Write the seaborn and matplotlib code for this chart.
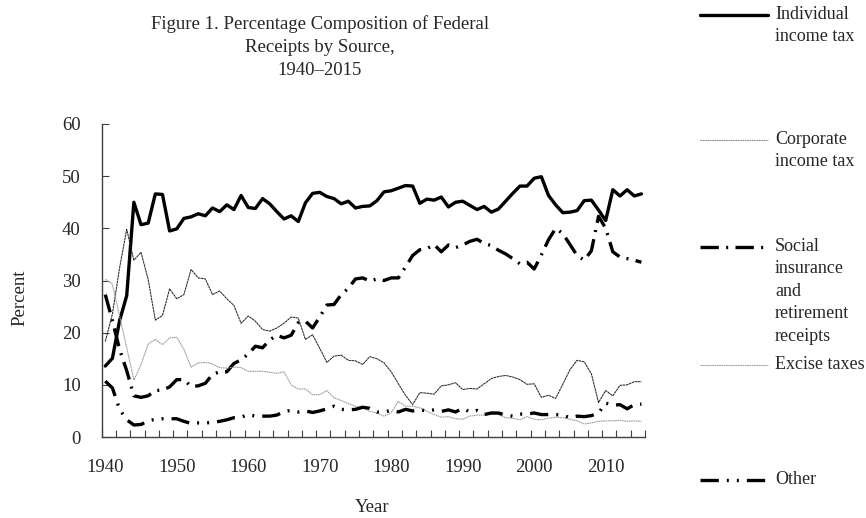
import numpy as np
import matplotlib.pyplot as plt
from matplotlib.lines import Line2D
import seaborn as sns

# percentage composition of federal receipts, fiscal years 1940-2015
years = list(range(1940, 2016))

individual = [13.6, 15.1, 22.3, 27.1, 45.0, 40.7, 41.0, 46.6, 46.5, 39.5,
              39.9, 41.9, 42.2, 42.8, 42.4, 43.9, 43.2, 44.5, 43.6, 46.3,
              44.0, 43.8, 45.7, 44.7, 43.2, 41.8, 42.4, 41.3, 44.9, 46.7,
              46.9, 46.1, 45.7, 44.7, 45.2, 43.9, 44.2, 44.3, 45.3, 47.0,
              47.2, 47.7, 48.2, 48.1, 44.8, 45.6, 45.4, 46.0, 44.1, 45.0,
              45.2, 44.4, 43.6, 44.2, 43.1, 43.7, 45.2, 46.7, 48.1, 48.1,
              49.6, 49.9, 46.3, 44.5, 43.0, 43.1, 43.4, 45.3, 45.4, 43.5,
              41.5, 47.4, 46.2, 47.4, 46.2, 46.6]

corporate = [18.3, 23.6, 32.4, 39.8, 33.9, 35.4, 30.2, 22.4, 23.3, 28.4,
             26.5, 27.3, 32.1, 30.5, 30.3, 27.3, 28.0, 26.5, 25.2, 21.8,
             23.2, 22.2, 20.6, 20.3, 20.9, 21.8, 23.0, 22.8, 18.7, 19.6,
             17.0, 14.3, 15.5, 15.7, 14.7, 14.6, 13.9, 15.4, 15.0, 14.2,
             12.5, 10.2, 8.0, 6.2, 8.5, 8.4, 8.2, 9.8, 10.0, 10.4,
             9.1, 9.3, 9.2, 10.2, 11.2, 11.6, 11.8, 11.5, 11.0, 10.1,
             10.2, 7.6, 8.0, 7.4, 10.1, 12.9, 14.7, 14.4, 12.1, 6.6,
             8.9, 7.9, 9.9, 10.0, 10.6, 10.6]

social = [27.3, 22.3, 16.8, 12.7, 7.9, 7.6, 7.9, 8.9, 9.0, 9.6,
          11.0, 11.0, 9.7, 9.8, 10.3, 12.0, 12.5, 12.5, 14.1, 14.8,
          15.9, 17.4, 17.1, 18.6, 19.5, 19.0, 19.5, 21.9, 22.2, 20.9,
          23.0, 25.3, 25.4, 27.3, 28.5, 30.3, 30.5, 29.9, 30.3, 30.0,
          30.5, 30.5, 32.6, 34.8, 35.9, 36.1, 36.9, 35.5, 36.8, 36.3,
          36.8, 37.5, 37.9, 37.1, 36.7, 35.8, 35.1, 34.2, 33.2, 33.5,
          32.2, 34.9, 37.8, 40.0, 39.0, 36.9, 34.8, 33.9, 35.7, 42.3,
          40.0, 35.5, 34.5, 34.2, 33.9, 33.5]

excise = [30.2, 29.3, 23.2, 17.1, 10.9, 13.9, 17.8, 18.7, 17.7, 19.0,
          19.1, 16.8, 13.4, 14.2, 14.3, 14.0, 13.3, 13.2, 13.4, 13.3,
          12.6, 12.6, 12.6, 12.4, 12.2, 12.5, 10.0, 9.2, 9.2, 8.1,
          8.1, 8.9, 7.5, 7.0, 6.4, 5.9, 5.7, 4.9, 4.6, 4.0,
          4.7, 6.8, 5.9, 5.9, 5.6, 4.9, 4.3, 3.8, 3.9, 3.5,
          3.4, 4.0, 4.2, 4.2, 4.4, 4.3, 3.7, 3.6, 3.3, 3.9,
          3.4, 3.3, 3.6, 3.8, 3.7, 3.4, 3.1, 2.5, 2.7, 3.0,
          3.1, 3.1, 3.2, 3.0, 3.1, 3.0]

other = [10.7, 9.4, 5.3, 3.3, 2.3, 2.4, 3.1, 3.4, 3.5, 3.5,
         3.5, 3.0, 2.6, 2.7, 2.7, 2.8, 3.0, 3.3, 3.7, 3.8,
         4.3, 4.0, 4.0, 4.0, 4.2, 4.9, 5.1, 4.8, 5.0, 4.7,
         5.0, 5.4, 5.9, 5.3, 5.2, 5.3, 5.7, 5.5, 4.8, 4.8,
         5.1, 4.8, 5.3, 5.0, 5.2, 5.0, 5.2, 4.9, 5.2, 4.8,
         5.5, 4.8, 5.1, 4.3, 4.6, 4.6, 4.2, 4.0, 4.4, 4.4,
         4.6, 4.3, 4.3, 4.3, 4.2, 3.7, 4.0, 3.9, 4.1, 4.6,
         6.5, 6.1, 6.2, 5.4, 6.2, 6.3]

labels = ['Individual\nincome tax', 'Corporate\nincome tax',
          'Social\ninsurance\nand\nretirement\nreceipts', 'Excise taxes', 'Other']
series = [individual, corporate, social, excise, other]

styles = [
    dict(color='black', lw=2.4, linestyle='-'),
    dict(color='#262626', lw=0.75, linestyle=(0, (2.5, 0.5))),
    dict(color='black', lw=2.4, linestyle=(0, (5.5, 2.2, 0.6, 2.2)), dash_capstyle='butt'),
    dict(color='#9a9a9a', lw=0.8, linestyle=(0, (1.5, 0.6))),
    dict(color='black', lw=2.4, linestyle=(0, (5.5, 2.4, 0.6, 2.4, 0.6, 2.4)), dash_capstyle='butt'),
]
leg_styles = [
    styles[0],
    dict(color='#8a8a8a', lw=0.8, linestyle=(0, (1.5, 0.6))),
    styles[2], styles[3], styles[4],
]

sns.set_theme(style='white')
plt.rcParams['font.family'] = ['Liberation Serif', 'DejaVu Serif']
fs = 13.5

W, H = 866, 518
fig = plt.figure(figsize=(W / 100, H / 100), dpi=100)
fig.patch.set_facecolor('white')
ax = fig.add_axes([101.7 / W, 1 - 437 / H, (645 - 101.7) / W, (437 - 124) / H])

for vals, st in zip(series, styles):
    sns.lineplot(x=years, y=vals, ax=ax, legend=False, **st)

ax.set_xlim(1939.5, 2015.5)
ax.set_ylim(0, 60)
ax.set_xticks(range(1940, 2011, 10))
ax.set_xticks(np.arange(1939.5, 2016, 2), minor=True)
ax.set_yticks(range(0, 61, 10))
ax.tick_params(axis='x', which='major', length=0, pad=16, labelsize=fs)
ax.tick_params(axis='x', which='minor', direction='in', length=5, width=0.8,
               color='#404040', bottom=True)
ax.tick_params(axis='y', which='major', direction='in', length=5, width=0.8,
               color='#404040', pad=15, labelsize=fs, left=True)
for s in ['top', 'right']:
    ax.spines[s].set_visible(False)
for s in ['left', 'bottom']:
    ax.spines[s].set_color('#404040')
    ax.spines[s].set_linewidth(1.0)

ax.set_xlabel('')
ax.set_ylabel('')
fig.text(20 / W, 1 - 298 / H, 'Percent', rotation=90, ha='center', va='center', fontsize=fs)
fig.text(372 / W, 1 - 508 / H, 'Year', ha='center', va='center', fontsize=fs)

fig.text(320 / W, 1 - 15 / H,
         'Figure 1. Percentage Composition of Federal\nReceipts by Source,\n1940\u20132015',
         ha='center', va='top', fontsize=fs, linespacing=1.45)

# legend placed down the right side like the original
leg_y = [15, 140, 247, 365, 480]
for lab, st, y in zip(labels, leg_styles, leg_y):
    fig.add_artist(Line2D([700 / W, 768 / W], [1 - y / H, 1 - y / H],
                          transform=fig.transFigure, **st))
    fig.text(775 / W, 1 - (y - 9) / H, lab, ha='left', va='top',
             fontsize=13, linespacing=1.42)

fig.savefig('out.png', dpi=100, facecolor='white')
